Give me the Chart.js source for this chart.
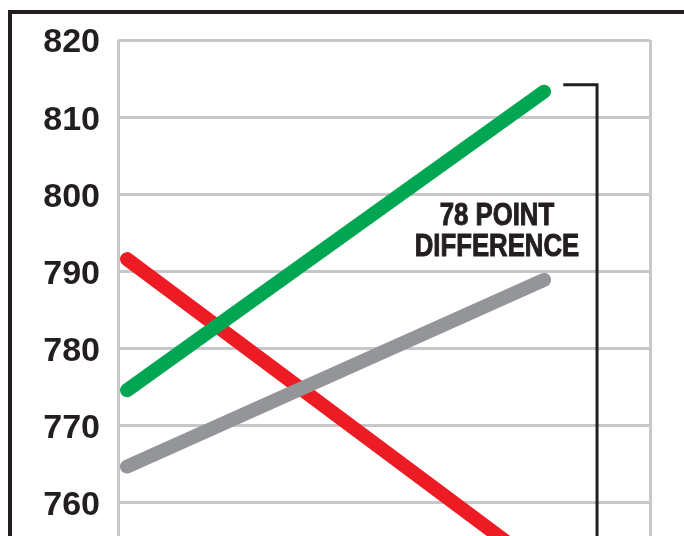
<!DOCTYPE html>
<html>
<head>
<meta charset="utf-8">
<title>78 point difference</title>
<script src="https://cdn.jsdelivr.net/npm/chart.js@4/dist/chart.umd.min.js"></script>
<style>
  html, body { margin: 0; padding: 0; background: #fff; }
  canvas { display: block; }
</style>
</head>
<body>
<canvas id="scoreChart" width="684" height="536"></canvas>
<script>
/* data */
const xPoints = [0, 1];
const greenScores = [774.6, 813.3];
const grayScores = [764.7, 788.9];
const redScores = [791.6, 751.3];
const yTicks = [760, 770, 780, 790, 800, 810, 820];
const noteLines = ['78 POINT', 'DIFFERENCE'];

const ink = '#231f20';
const gridGray = '#c6c7c9';

function toPoints(vals){
  return vals.map((v, i) => ({ x: xPoints[i], y: v }));
}

// frame, bracket and note
const extras = {
  id: 'extras',
  beforeDraw(chart){
    const c = chart.ctx;
    c.save();
    c.fillStyle = ink;
    c.fillRect(8, 10, chart.width, 4);
    c.fillRect(8, 10, 4, chart.height);
    c.restore();
  },
  afterDatasetsDraw(chart){
    const c = chart.ctx;
    const xs = chart.scales.x, ys = chart.scales.y;
    const top = ys.getPixelForValue(greenScores[1]) - 7;
    const x1 = xs.getPixelForValue(1.046);
    const x2 = xs.getPixelForValue(1.127);
    c.save();
    c.strokeStyle = ink;
    c.lineWidth = 3;
    c.beginPath();
    c.moveTo(x1, top);
    c.lineTo(x2, top);
    c.lineTo(x2, chart.height + 5);
    c.stroke();

    // narrow bold look: squeeze a normal bold face
    c.fillStyle = ink;
    c.strokeStyle = ink;
    c.lineWidth = 1;
    c.font = 'bold 31px "Liberation Sans", Arial, sans-serif';
    c.textAlign = 'center';
    c.textBaseline = 'alphabetic';
    const tx = xs.getPixelForValue(0.887);
    const ty = ys.getPixelForValue(796.0);
    const squeeze = 0.83;
    noteLines.forEach((t, i) => {
      c.save();
      c.translate(tx, ty + i * 31);
      c.scale(squeeze, 1);
      c.fillText(t, 0, 0);
      c.strokeText(t, 0, 0);
      c.restore();
    });
    c.restore();
  }
};

const lineStyle = {
  borderWidth: 14,
  borderCapStyle: 'round',
  pointRadius: 0,
  pointHoverRadius: 0,
  tension: 0,
  fill: false
};

new Chart(document.getElementById('scoreChart'), {
  type: 'line',
  data: {
    datasets: [
      Object.assign({ label: 'gray', data: toPoints(grayScores), borderColor: '#939598' }, lineStyle),
      Object.assign({ label: 'green', data: toPoints(greenScores), borderColor: '#00a651' }, lineStyle),
      Object.assign({ label: 'red', data: toPoints(redScores), borderColor: '#ed1c24' }, lineStyle)
    ]
  },
  options: {
    responsive: false,
    devicePixelRatio: 1,
    animation: false,
    events: [],
    layout: { padding: { top: 40, right: 34, bottom: 0, left: 0 } },
    plugins: {
      legend: { display: false },
      tooltip: { enabled: false },
      title: { display: false }
    },
    scales: {
      x: {
        type: 'linear',
        min: -0.0216,
        max: 1.254,
        afterBuildTicks(scale){
          scale.ticks = [{ value: scale.min }, { value: scale.max }];
        },
        afterFit(scale){ scale.height = 0; },
        ticks: { display: false },
        border: { display: false },
        grid: { color: gridGray, lineWidth: 3, drawTicks: false }
      },
      y: {
        min: 755.7,
        max: 820,
        afterBuildTicks(scale){
          scale.ticks = yTicks.map(v => ({ value: v }));
        },
        afterFit(scale){
          scale.width = 118;
          scale.paddingTop = 0;
          scale.paddingBottom = 0;
        },
        border: { display: false },
        grid: { color: gridGray, lineWidth: 3, drawTicks: false },
        ticks: {
          color: ink,
          padding: 18,
          labelOffset: 3,
          font: { family: '"Liberation Sans", Arial, sans-serif', weight: 'bold', size: 34 }
        }
      }
    }
  },
  plugins: [extras]
});
</script>
</body>
</html>
